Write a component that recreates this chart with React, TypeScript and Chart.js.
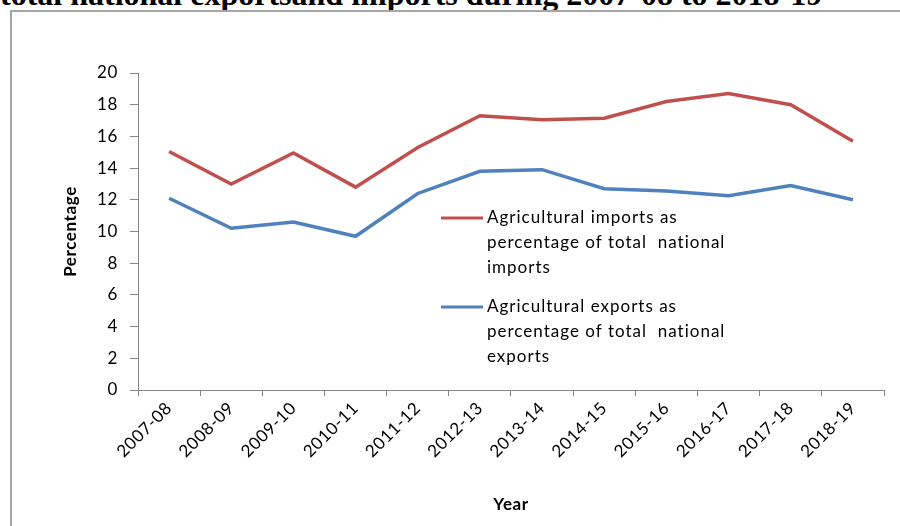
import React, { useEffect, useRef } from "react";
import { Chart, registerables } from "chart.js";

Chart.register(...registerables);

const categories = [
  "2007-08", "2008-09", "2009-10", "2010-11", "2011-12", "2012-13",
  "2013-14", "2014-15", "2015-16", "2016-17", "2017-18", "2018-19",
];
const importsPct = [15.05, 13.0, 14.95, 12.8, 15.3, 17.3, 17.05, 17.15, 18.2, 18.7, 18.0, 15.7];
const exportsPct = [12.1, 10.2, 10.6, 9.7, 12.4, 13.8, 13.9, 12.7, 12.55, 12.25, 12.9, 12.0];
const importsLabel = ["Agricultural imports as", "percentage of total  national", "imports"];
const exportsLabel = ["Agricultural exports as", "percentage of total  national", "exports"];
const yTitle = "Percentage";
const xTitle = "Year";
const pageTitle = "total national exportsand imports during 2007-08 to 2018-19";

const RED = "#C0504D";
const BLUE = "#4F81BD";
const FONT = "Lato, 'Open Sans', sans-serif";

const spacing = {
  id: "spacing",
  beforeDraw(chart: any) {
    chart.ctx.letterSpacing = "0.6px";
  },
};

const sideLegend = {
  id: "sideLegend",
  afterDraw(chart: any) {
    const { ctx, chartArea } = chart;
    const entries = [
      { lines: importsLabel, color: RED, y: chartArea.top + 145 },
      { lines: exportsLabel, color: BLUE, y: chartArea.top + 234 },
    ];
    const x0 = chartArea.left + 303;
    ctx.save();
    ctx.letterSpacing = "1px";
    ctx.font = `17px ${FONT}`;
    ctx.textBaseline = "middle";
    ctx.textAlign = "left";
    for (const e of entries) {
      ctx.strokeStyle = e.color;
      ctx.lineWidth = 3;
      ctx.beginPath();
      ctx.moveTo(x0, e.y);
      ctx.lineTo(x0 + 42, e.y);
      ctx.stroke();
      ctx.fillStyle = "#000";
      e.lines.forEach((t: string, i: number) => {
        ctx.fillText(t, x0 + 46, e.y + i * 25);
      });
    }
    ctx.restore();
  },
};

export default function App() {
  const ref = useRef<HTMLCanvasElement | null>(null);
  useEffect(() => {
    if (!ref.current) return;
    const chart = new Chart(ref.current, {
      type: "line",
      data: {
        labels: categories,
        datasets: [
          {
            label: importsLabel.join(" "),
            data: importsPct,
            borderColor: RED,
            backgroundColor: RED,
            borderWidth: 3.5,
            pointRadius: 0,
            tension: 0,
          },
          {
            label: exportsLabel.join(" "),
            data: exportsPct,
            borderColor: BLUE,
            backgroundColor: BLUE,
            borderWidth: 3.5,
            pointRadius: 0,
            tension: 0,
          },
        ],
      },
      options: {
        animation: false,
        responsive: false,
        maintainAspectRatio: false,
        layout: { padding: { left: 0, right: 16, top: 73, bottom: 0 } },
        plugins: { legend: { display: false }, tooltip: { enabled: false }, title: { display: false } },
        scales: {
          x: {
            offset: true,
            afterFit: (s: any) => { s.height = 136; },
            grid: { offset: true, drawOnChartArea: false, drawTicks: true, tickLength: 6, color: "#868686" },
            border: { color: "#868686", width: 1 },
            ticks: {
              color: "#000",
              font: { family: FONT, size: 17 },
              maxRotation: 45,
              minRotation: 45,
              padding: 2,
              autoSkip: false,
            },
            title: {
              display: true,
              text: xTitle,
              color: "#000",
              font: { family: FONT, size: 17, weight: "bold" },
              padding: { top: 0, bottom: 11 },
            },
          },
          y: {
            min: 0,
            max: 20,
            afterFit: (s: any) => { s.width = 138; },
            grid: { drawOnChartArea: false, drawTicks: true, tickLength: 8, color: "#868686" },
            border: { color: "#868686", width: 1 },
            ticks: {
              stepSize: 2,
              color: "#000",
              font: { family: FONT, size: 17 },
              padding: 12,
            },
            title: {
              display: true,
              text: yTitle,
              color: "#000",
              font: { family: FONT, size: 17, weight: "bold" },
              padding: { top: 60, bottom: 0 },
            },
          },
        },
      },
      plugins: [spacing, sideLegend],
    });
    return () => chart.destroy();
  }, []);

  return (
    <div style={{ position: "absolute", left: 0, top: 0, width: 900, height: 526, overflow: "hidden", background: "#fff" }}>
      <div
        style={{
          position: "absolute",
          left: 0,
          top: -22,
          whiteSpace: "nowrap",
          fontFamily: "'Liberation Serif', 'Times New Roman', serif",
          fontWeight: "bold",
          fontSize: 32,
          lineHeight: "32px",
          color: "#000",
        }}
      >
        {pageTitle}
      </div>
      <div
        style={{
          position: "absolute",
          left: 10,
          top: 10,
          width: 920,
          height: 560,
          border: "2px solid #a6a6a6",
          boxSizing: "border-box",
        }}
      />
      <canvas ref={ref} width={900} height={526} style={{ position: "absolute", left: 0, top: 0, width: 900, height: 526 }} />
    </div>
  );
}
